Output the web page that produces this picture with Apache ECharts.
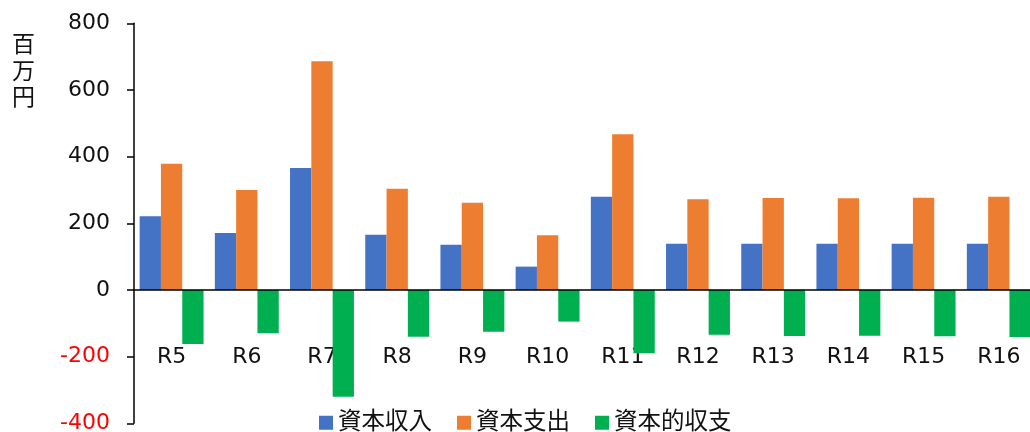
<!DOCTYPE html>
<html><head><meta charset="utf-8">
<script src="https://cdn.jsdelivr.net/npm/echarts@6/dist/echarts.min.js"></script>
<style>html,body{margin:0;padding:0;background:#fff}#c{width:1030px;height:432px}</style>
</head><body><div id="c"></div>
<script>
const categories = ['R5','R6','R7','R8','R9','R10','R11','R12','R13','R14','R15','R16'];
const revenue = [221, 171, 366, 166, 136, 70, 280, 139, 139, 139, 139, 139];
const expenditure = [379, 300, 686, 304, 262, 164, 467, 272, 276, 275, 277, 280];
const balance = [-162, -130, -320, -140, -125, -95, -190, -134, -138, -137, -139, -141];
const seriesNames = ['資本収入', '資本支出', '資本的収支'];
const unitLabel = '百万円';

const FONT = "'DejaVu Sans', 'Noto Sans CJK JP', sans-serif";
const chart = echarts.init(document.getElementById('c'), null, {renderer: 'canvas'});
chart.setOption({
  animation: false,
  textStyle: {fontFamily: FONT},
  color: ['#4472C4', '#ED7D31', '#00B050'],
  grid: {left: 134, right: -6.4, top: 23.3, bottom: 8.7, containLabel: false, outerBoundsMode: 'none'},
  legend: {
    left: 314, top: 406,
    itemWidth: 14, itemHeight: 14, itemGap: 25,
    icon: 'rect',
    textStyle: {fontFamily: FONT, fontSize: 23.5, color: '#111', padding: [0, 0, 0, 0]},
    data: seriesNames
  },
  graphic: [{
    type: 'text', left: 12, top: 33,
    style: {text: unitLabel.split('').join('\n'), font: '23px ' + FONT, fill: '#111', lineHeight: 26.5}
  }],
  xAxis: [{
    type: 'category', data: categories,
    axisLine: {onZero: true, lineStyle: {color: '#000', width: 1.5}},
    axisTick: {show: false},
    axisLabel: {show: false},
    z: 4
  }, {
    type: 'category', data: categories, position: 'bottom', offset: -134,
    axisLine: {show: false, onZero: false},
    axisTick: {show: false},
    axisLabel: {margin: 57, fontSize: 22, color: '#111', fontFamily: FONT},
    z: 0
  }],
  yAxis: {
    type: 'value', min: -400, max: 800, interval: 200,
    axisLine: {show: true, lineStyle: {color: '#000', width: 1.5}},
    axisTick: {show: true, length: 7, lineStyle: {color: '#000', width: 1.5}},
    splitLine: {show: false},
    axisLabel: {
      margin: 24, fontSize: 22, fontFamily: FONT,
      color: function (v) { return Number(v) < 0 ? '#FF0000' : '#111'; }
    }
  },
  series: [
    {name: seriesNames[0], type: 'bar', data: revenue, barGap: '0%', barCategoryGap: '15%', z: 3},
    {name: seriesNames[1], type: 'bar', data: expenditure, barGap: '0%', barCategoryGap: '15%', z: 3},
    {name: seriesNames[2], type: 'bar', data: balance, barGap: '0%', barCategoryGap: '15%', z: 3}
  ]
});
</script></body></html>
